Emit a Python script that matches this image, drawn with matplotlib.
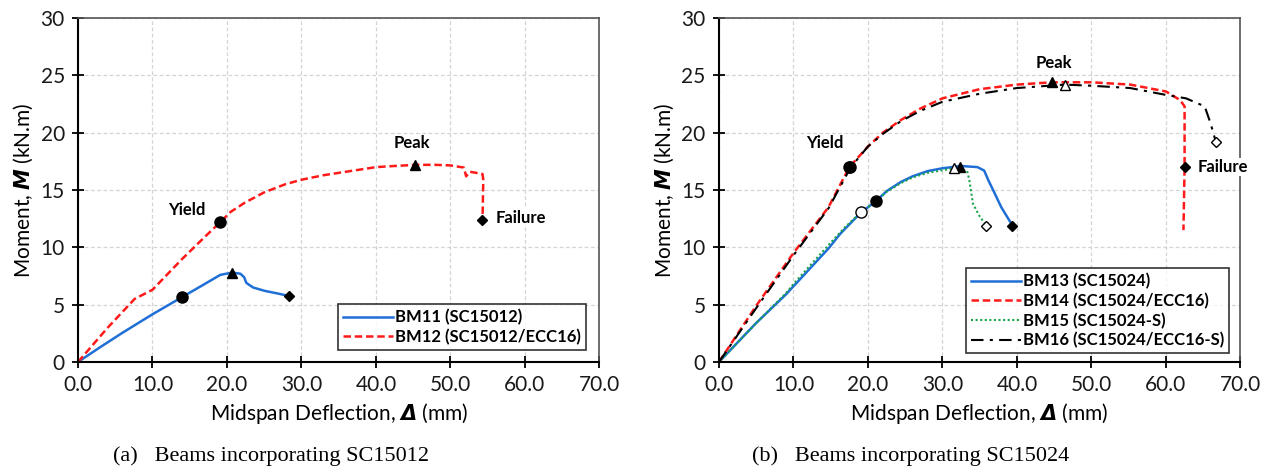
import numpy as np
import matplotlib
matplotlib.use("Agg")
from matplotlib import pyplot as plt

plt.rcParams['font.family'] = ['Lato', 'DejaVu Sans']
plt.rcParams['mathtext.fontset'] = 'custom'
plt.rcParams['mathtext.bf'] = 'DejaVu Sans:italic:bold'

# ---- (a) SC15012 ----
bm11_x = [0, 3, 6, 10, 14.0, 17, 19.1, 20.7, 21.8, 22.3, 22.6, 23.5, 25.1, 27, 28.3]
bm11_y = [0, 1.3, 2.56, 4.16, 5.67, 6.8, 7.6, 7.8, 7.7, 7.4, 6.9, 6.5, 6.2, 5.95, 5.76]
bm12_x = [0, 4, 7.6, 10, 14, 17, 19.1, 20.5, 22.4, 25, 27.8, 30, 33, 36, 40, 42.5, 45.3, 48, 50, 51.8, 52.1, 52.6, 54.3, 54.4, 54.3]
bm12_y = [0, 3.0, 5.5, 6.3, 9.0, 10.9, 12.2, 13.1, 13.9, 14.8, 15.5, 15.9, 16.3, 16.6, 17.0, 17.1, 17.2, 17.2, 17.15, 16.96, 16.2, 16.6, 16.4, 15.9, 12.4]
a_yield = {'BM11': (14.0, 5.67), 'BM12': (19.1, 12.2)}
a_peak = {'BM11': (20.7, 7.8), 'BM12': (45.3, 17.2)}
a_fail = {'BM11': (28.3, 5.76), 'BM12': (54.2, 12.4)}

# ---- (b) SC15024 ----
bm13_x = [0, 5, 9, 10, 14.7, 16.3, 19, 21.1, 22.5, 24.4, 26, 28, 30, 32.5, 34.7, 35.6, 36.2, 36.8, 37.9, 39.4]
bm13_y = [0, 3.4, 5.9, 6.6, 9.9, 11.2, 13.0, 14.05, 14.9, 15.7, 16.2, 16.65, 16.9, 17.1, 17.0, 16.7, 15.8, 15.0, 13.5, 11.9]
bm14_x = [0, 5, 10, 14.7, 17.5, 20, 22, 24.4, 27, 30, 35, 40, 44.7, 50, 55.2, 60, 61.9, 62.5, 62.5, 62.35]
bm14_y = [0, 4.9, 9.5, 13.5, 17.0, 18.8, 20.0, 21.1, 22.1, 23.0, 23.8, 24.2, 24.4, 24.4, 24.2, 23.6, 22.85, 22.3, 17.0, 11.5]
bm15_x = [0, 5, 9, 10, 14.7, 17, 19.1, 21.1, 22.5, 24.4, 26, 28, 31.6, 33.3, 33.6, 34.1, 35.0, 35.9]
bm15_y = [0, 3.4, 6.0, 6.8, 10.2, 11.8, 13.1, 14.0, 14.85, 15.6, 16.1, 16.5, 16.9, 16.7, 15.9, 13.8, 12.7, 11.9]
bm16_x = [0, 5, 10, 14.7, 17.7, 20, 22, 24.4, 27, 30, 35, 40, 46.4, 50, 55.2, 60, 62.7, 65.2, 66.0, 66.7]
bm16_y = [0, 4.7, 9.3, 13.4, 17.0, 18.8, 19.9, 21.0, 21.9, 22.7, 23.4, 23.9, 24.2, 24.1, 23.9, 23.3, 23.0, 22.3, 20.8, 19.2]
b_yield = {'BM13': (21.1, 14.05), 'BM14': (17.5, 17.0), 'BM15': (19.1, 13.1), 'BM16': (17.6, 17.0)}
b_peak = {'BM13': (32.4, 17.0), 'BM14': (44.7, 24.4), 'BM15': (31.6, 16.9), 'BM16': (46.4, 24.2)}
b_fail = {'BM13': (39.4, 11.9), 'BM14': (62.5, 17.0), 'BM15': (35.9, 11.9), 'BM16': (66.7, 19.2)}

fig = plt.figure(figsize=(12.72, 4.73), dpi=100)
ax1 = fig.add_axes([0.0613, 0.2347, 0.410, 0.727])
ax2 = fig.add_axes([0.5652, 0.2347, 0.410, 0.727])


def style(ax):
    ax.set_xlim(0, 70)
    ax.set_ylim(0, 30)
    ax.set_xticks(np.arange(0, 71, 10))
    ax.set_xticklabels(['%.1f' % v for v in np.arange(0, 71, 10)])
    ax.set_yticks(np.arange(0, 31, 5))
    ax.grid(True, color='#d4d4d4', linestyle=(0, (3, 2)), linewidth=0.9)
    ax.set_axisbelow(True)
    ax.tick_params(direction='inout', length=9, width=1.3, labelsize=15,
                   colors='black', labelcolor='#1a1a1a', pad=5)
    for s in ['left', 'bottom']:
        ax.spines[s].set_linewidth(1.5)
        ax.spines[s].set_color('black')
    for s in ['top', 'right']:
        ax.spines[s].set_linewidth(1.2)
        ax.spines[s].set_color('#555555')
    ax.set_xlabel(r'Midspan Deflection, $\mathbf{\Delta}$ (mm)', fontsize=15, labelpad=4)
    ax.set_ylabel(r'Moment, $\mathbf{M}$ (kN.m)', fontsize=15, labelpad=4)


def markers(ax, pt, mk, fill, ms):
    ax.plot(pt[0], pt[1], marker=mk, markersize=ms, color='black',
            markerfacecolor='black' if fill else 'white', markeredgewidth=1.0,
            linestyle='none', zorder=5, clip_on=False)


def fix_legend(leg):
    leg.get_frame().set_linewidth(1.2)
    for t in leg.get_texts():
        t.set_fontweight('bold')


style(ax1)
ax1.plot(bm11_x, bm11_y, color='#1f6fd6', lw=1.8, label='BM11 (SC15012)')
ax1.plot(bm12_x, bm12_y, color='#ff1a1a', lw=1.8, ls=(0, (3, 1.5)), label='BM12 (SC15012/ECC16)')
for k in a_yield:
    markers(ax1, a_yield[k], 'o', True, 8)
    markers(ax1, a_peak[k], '^', True, 7)
    markers(ax1, a_fail[k], 'D', True, 5.5)
ax1.text(14.6, 13.3, 'Yield', fontsize=12, fontweight='bold', ha='center', va='center')
ax1.text(44.8, 19.1, 'Peak', fontsize=12, fontweight='bold', ha='center', va='center')
ax1.text(56.1, 12.6, 'Failure', fontsize=12, fontweight='bold', ha='left', va='center',
         bbox=dict(facecolor='white', edgecolor='none', pad=1))
leg = ax1.legend(loc='lower right', bbox_to_anchor=(0.98, 0.025), fontsize=12, frameon=True,
                 fancybox=False, edgecolor='black', handlelength=3.0, handletextpad=0.1,
                 borderpad=0.3, labelspacing=0.2, borderaxespad=0.2)
fix_legend(leg)

style(ax2)
ax2.plot(bm13_x, bm13_y, color='#1f6fd6', lw=1.8, label='BM13 (SC15024)')
ax2.plot(bm14_x, bm14_y, color='#ff1a1a', lw=1.8, ls=(0, (3, 1.5)), label='BM14 (SC15024/ECC16)')
ax2.plot(bm15_x, bm15_y, color='#1aa34a', lw=1.5, ls=(0, (1, 1.2)), label='BM15 (SC15024-S)')
ax2.plot(bm16_x, bm16_y, color='black', lw=1.5, ls=(0, (6, 3, 1.5, 3)), label='BM16 (SC15024/ECC16-S)')
for k, fill in [('BM13', True), ('BM14', True), ('BM15', False), ('BM16', False)]:
    markers(ax2, b_peak[k], '^', fill, 7)
    markers(ax2, b_fail[k], 'D', fill, 5.5)
for k, fill in [('BM13', True), ('BM14', True), ('BM15', False), ('BM16', True)]:
    markers(ax2, b_yield[k], 'o', fill, 8)
ax2.text(14.2, 19.1, 'Yield', fontsize=12, fontweight='bold', ha='center', va='center')
ax2.text(44.9, 26.1, 'Peak', fontsize=12, fontweight='bold', ha='center', va='center')
ax2.text(64.3, 17.0, 'Failure', fontsize=12, fontweight='bold', ha='left', va='center',
         bbox=dict(facecolor='white', edgecolor='none', pad=1), clip_on=False, zorder=6)
leg = ax2.legend(loc='lower right', bbox_to_anchor=(0.985, 0.015), fontsize=12, frameon=True,
                 fancybox=False, edgecolor='black', handlelength=3.0, handletextpad=0.1,
                 borderpad=0.3, labelspacing=0.2, borderaxespad=0.2)
fix_legend(leg)

fig.text(0.213, 0.025, '(a)   Beams incorporating SC15012', fontsize=16,
         family='Liberation Serif', ha='center')
fig.text(0.716, 0.025, '(b)   Beams incorporating SC15024', fontsize=16,
         family='Liberation Serif', ha='center')

fig.savefig('out.png', dpi=100)
